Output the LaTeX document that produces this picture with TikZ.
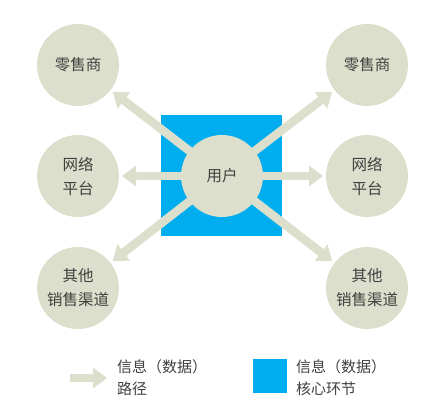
\documentclass[tikz,border=0pt]{standalone}
\usepackage{fontspec}
\setmainfont{Noto Sans CJK SC}
\usetikzlibrary{arrows.meta,backgrounds}
\definecolor{sage}{RGB}{220,223,203}
\definecolor{coreblue}{RGB}{0,174,239}
\definecolor{inkgray}{RGB}{64,64,64}

\begin{document}
\begin{tikzpicture}[x=1pt,y=-1pt]
  \tikzset{CircleStyle/.style = {
    shape         = circle,
    draw          = none,
    fill          = sage,
    text          = inkgray,
    inner sep     = 0pt,
    outer sep     = 0pt,
    minimum size  = 82pt,
    align         = center,
    font          = \fontsize{15.5}{24}\selectfont
    }
  }
  \tikzset{CoreStyle/.style = {
    shape         = rectangle,
    draw          = none,
    fill          = coreblue,
    inner sep     = 0pt,
    outer sep     = 0pt,
    minimum size  = #1
    }
  }
  \tikzset{PathStyle/.style = {
    draw            = sage,
    line width      = 8.5pt,
    -{Triangle[width=20pt,length=14pt]}
    }
  }
  \tikzset{LegendTextStyle/.style = {
    anchor        = west,
    align         = left,
    text          = inkgray,
    inner sep     = 0pt,
    font          = \fontsize{15}{22}\selectfont
    }
  }

  \useasboundingbox (0,0) rectangle (438,415);

	\node[CircleStyle](User) at (222, 176) {用户};
	\node[CircleStyle](RetailL) at (78, 65) {零售商};
	\node[CircleStyle](RetailR) at (367, 65) {零售商};
	\node[CircleStyle](WebL) at (78, 176) {网络\\平台};
	\node[CircleStyle](WebR) at (367, 176) {网络\\平台};
	\node[CircleStyle](OtherL) at (78, 288) {其他\\销售渠道};
	\node[CircleStyle](OtherR) at (367, 288) {其他\\销售渠道};
	%
	\begin{pgfonlayer}{background}
	\node[CoreStyle=121pt](Core) at (221.5, 175.5) {};
	\foreach \target in {RetailL, RetailR, WebL, WebR, OtherL, OtherR}
	  \draw[PathStyle, shorten >=3pt](User.center) -- (\target);
	\end{pgfonlayer}
	%
	\coordinate (LegFrom) at (70, 378);
	\coordinate (LegTo) at (107, 378);
	\draw[PathStyle](LegFrom) -- (LegTo);
	\node[LegendTextStyle](LegPath) at (117, 378) {信息（数据）\\路径};
	\node[CoreStyle=34pt](LegCore) at (270, 376) {};
	\node[LegendTextStyle](LegCoreText) at (296, 378) {信息（数据）\\核心环节};

\end{tikzpicture}
\end{document}
